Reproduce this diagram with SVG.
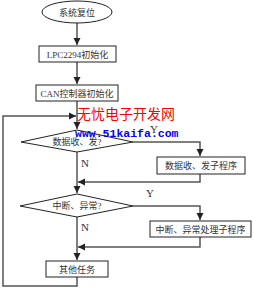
<svg xmlns="http://www.w3.org/2000/svg" width="254" height="289" viewBox="0 0 254 289">
<defs>
<marker id="ah" markerWidth="8" markerHeight="8" refX="7" refY="4" orient="auto" markerUnits="userSpaceOnUse">
<path d="M0,0.5 L7,4 L0,7.5 Z" fill="#222"/>
</marker>
<style>
.box{fill:#fff;stroke:#222;stroke-width:1}
.ln{fill:none;stroke:#555;stroke-width:1.5}
.t{font-family:"Liberation Serif","Noto Sans CJK SC",serif;font-size:9px;fill:#333;text-anchor:middle}
.lb{font-family:"Liberation Serif",serif;font-size:11px;fill:#333}
</style>
</defs>
<rect width="254" height="289" fill="#fff"/>
<g id="connectors">
<path class="ln" d="M77,23 V45" marker-end="url(#ah)"/>
<path class="ln" d="M77,62 V84" marker-end="url(#ah)"/>
<path class="ln" d="M77,101 V129" marker-end="url(#ah)"/>
<path class="ln" d="M133,142 H200 V156" marker-end="url(#ah)"/>
<path class="ln" d="M77,152 V193" marker-end="url(#ah)"/>
<path class="ln" d="M200,174 V182 H78" marker-end="url(#ah)"/>
<path class="ln" d="M133,206 H200 V220" marker-end="url(#ah)"/>
<path class="ln" d="M77,217 V260" marker-end="url(#ah)"/>
<path class="ln" d="M200,237 V247 H78" marker-end="url(#ah)"/>
<path class="ln" d="M77,277 V286 H3 V116 H76" marker-end="url(#ah)"/>
<text class="lb" x="150" y="133">Y</text>
<text class="lb" x="81" y="167">N</text>
<text class="lb" x="146" y="197">Y</text>
<text class="lb" x="81" y="231">N</text>
</g>
<g id="start">
<ellipse class="box" cx="77" cy="12" rx="35" ry="11"/>
<text class="t" x="77" y="15.5">系统复位</text>
</g>
<g id="lpc">
<rect class="box" x="39" y="46" width="77" height="16"/>
<text class="t" x="77.5" y="57.5">LPC2294初始化</text>
</g>
<g id="can">
<rect class="box" x="36" y="85" width="82" height="16"/>
<text class="t" x="77" y="96.5">CAN控制器初始化</text>
</g>
<g id="d1">
<polygon class="box" points="77,130 133,142 77,152 21,142"/>
<text class="t" x="77" y="145">数据收、发?</text>
</g>
<g id="p1">
<rect class="box" x="157" y="157" width="88" height="17"/>
<text class="t" x="201" y="168.5">数据收、发子程序</text>
</g>
<g id="d2">
<polygon class="box" points="77,194 133,206 77,217 20,206"/>
<text class="t" x="77" y="209">中断、异常?</text>
</g>
<g id="p2">
<rect class="box" x="150" y="221" width="101" height="16"/>
<text class="t" x="200.5" y="232.5">中断、异常处理子程序</text>
</g>
<g id="other">
<rect class="box" x="46" y="261" width="62" height="16"/>
<text class="t" x="77" y="272.5">其他任务</text>
</g>
<g id="watermark">
<text x="77" y="119" font-family="'Noto Sans CJK SC',sans-serif" font-size="14" fill="#f00">无忧电子开发网</text>
<text x="75" y="137" font-family="'Liberation Mono',monospace" font-size="11.5" font-weight="bold" fill="#00f">www.51kaifa.com</text>
</g>
</svg>
